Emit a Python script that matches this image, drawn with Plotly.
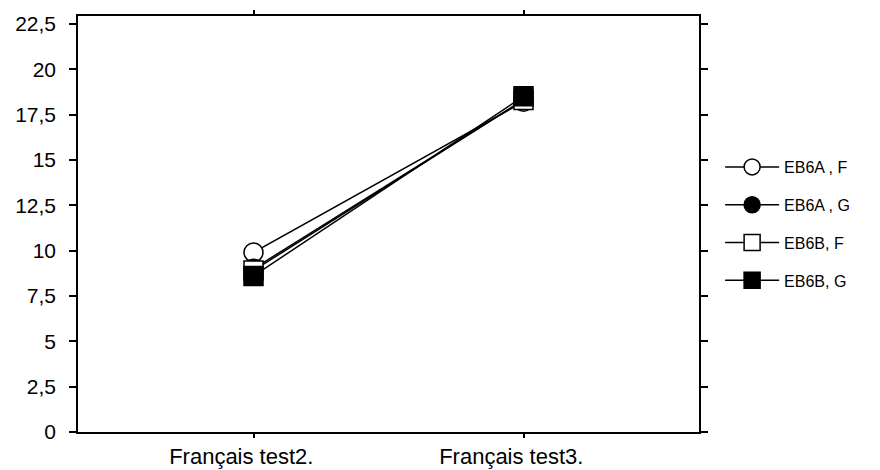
import plotly.graph_objects as go

categories = ["Français test2.\u00a0\u00a0\u00a0\u00a0", "Français test3.\u00a0\u00a0\u00a0\u00a0"]
series_names = ["EB6A , F", "EB6A , G", "EB6B, F", "EB6B, G"]
eb6a_f = [9.9, 18.2]
eb6a_g = [9.0, 18.3]
eb6b_f = [8.9, 18.3]
eb6b_g = [8.6, 18.5]
y_ticks = [0, 2.5, 5, 7.5, 10, 12.5, 15, 17.5, 20, 22.5]

series_values = [eb6a_f, eb6a_g, eb6b_f, eb6b_g]
symbols = ["circle", "circle", "square", "square"]
fills = ["white", "black", "white", "black"]

fig = go.Figure()
for i, (name, vals, sym, fc) in enumerate(zip(series_names, series_values, symbols, fills)):
    fig.add_trace(go.Scatter(
        x=[0, 1], y=vals, name=name, mode="lines+markers",
        legendgroup=str(i),
        line=dict(color="black", width=1.5),
        marker=dict(symbol=sym, size=19, color=fc,
                    line=dict(color="black", width=1.5)),
    ))

# page body has an 8px margin, so the figure is sized to fit inside the window
fig.update_layout(
    width=872, height=462,
    margin=dict(l=70, r=181, t=8, b=38),
    paper_bgcolor="white", plot_bgcolor="white",
    separators=",.",
    font=dict(family="Liberation Sans, Arial, sans-serif", size=21, color="black"),
    showlegend=True,
    legend=dict(x=1.034, y=0.5, yanchor="middle", xanchor="left",
                font=dict(size=16), tracegroupgap=14, itemwidth=54),
    xaxis=dict(range=[-0.65, 1.65], tickvals=[0, 1], ticktext=categories,
               automargin=False, tickfont=dict(size=22),
               showgrid=False, zeroline=False, showline=True, linecolor="black",
               linewidth=1.5, mirror="allticks", ticks="outside", ticklen=4,
               tickcolor="black", tickwidth=1.5),
    yaxis=dict(range=[0, 22.93], tickvals=y_ticks, tickformat=".1~f",
               automargin=False, ticklabelstandoff=9,
               showgrid=False, zeroline=False, showline=True, linecolor="black",
               linewidth=1.5, mirror="allticks", ticks="outside", ticklen=7,
               tickcolor="black", tickwidth=1.5),
)

fig.write_html("out.html")
